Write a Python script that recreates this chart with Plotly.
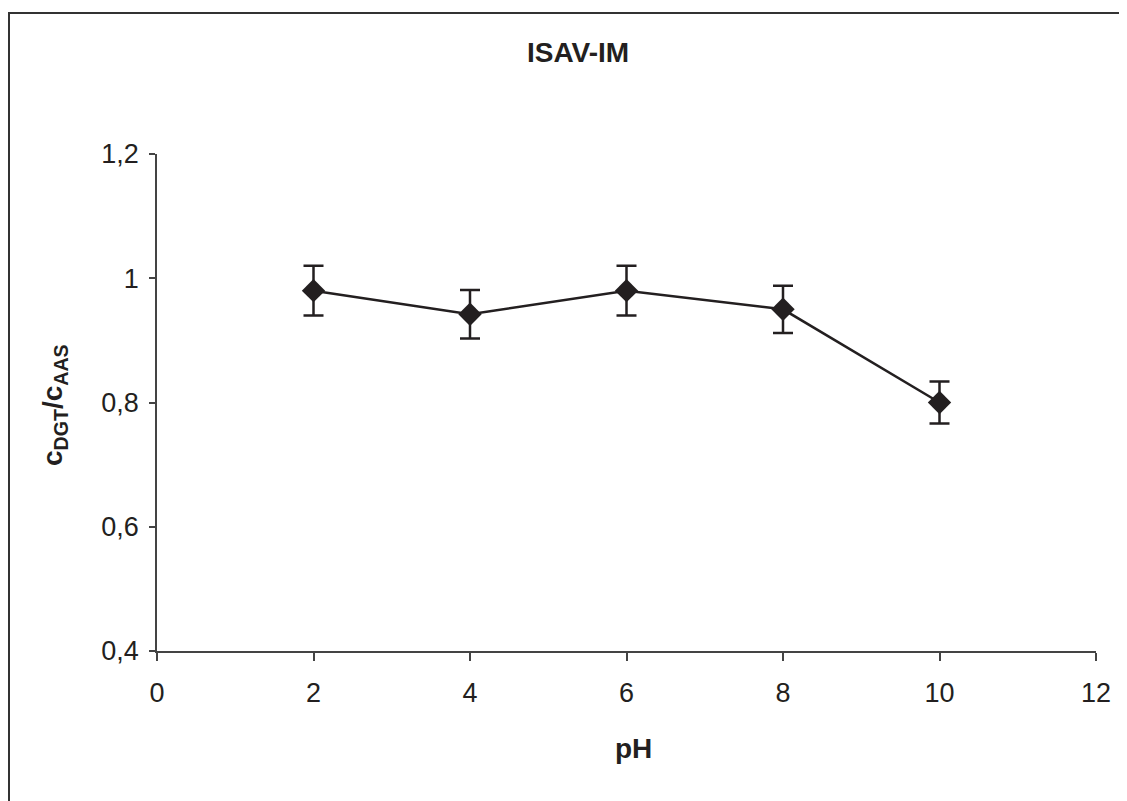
import plotly.graph_objects as go

ph = [2, 4, 6, 8, 10]
ratio = [0.980, 0.942, 0.980, 0.950, 0.800]
err = [0.040, 0.039, 0.040, 0.038, 0.034]
x_ticks = [0, 2, 4, 6, 8, 10, 12]
y_ticks = [0.4, 0.6, 0.8, 1.0, 1.2]
y_tick_labels = ["0,4", "0,6", "0,8", "1", "1,2"]

# page body has an 8px default margin; work in screen pixel coordinates
OFF = 8
W, H = 1127 - OFF, 801 - OFF
L, R, T, B = 157 - OFF, 31, 154 - OFF, 150
pw, ph_ = W - L - R, H - T - B

def px(x):
    return (x - OFF - L) / pw

def py(y):
    return (H - B - (y - OFF)) / ph_

dark = "#231f20"
font = "Liberation Sans, Arial, sans-serif"

fig = go.Figure()
fig.add_trace(go.Scatter(
    x=ph, y=ratio, mode="lines+markers",
    line=dict(color=dark, width=2.5),
    marker=dict(symbol="diamond", size=18, color=dark),
    error_y=dict(type="data", array=err, visible=True, color=dark, thickness=2.5, width=10),
    showlegend=False,
))

fig.update_layout(
    width=W, height=H,
    margin=dict(l=L, r=R, t=T, b=B, autoexpand=False),
    paper_bgcolor="white", plot_bgcolor="white",
    separators=",.",
    font=dict(family=font, size=27, color=dark),
    xaxis=dict(range=[0, 12], tickvals=x_ticks, ticks="outside", ticklen=8,
               tickwidth=1.5, tickcolor="#444", showline=True, linecolor="#444",
               linewidth=1.5, showgrid=False, zeroline=False,
               tickfont=dict(size=27, color=dark), ticklabelstandoff=9),
    yaxis=dict(range=[0.4, 1.2], tickvals=y_ticks, ticktext=y_tick_labels,
               ticks="outside", ticklen=6, tickwidth=1.5, tickcolor="#444",
               showline=True, linecolor="#444", linewidth=1.5, showgrid=False,
               zeroline=False, tickfont=dict(size=27, color=dark), ticklabelstandoff=5),
    annotations=[
        dict(text="<b>ISAV-IM</b>", x=px(578), y=py(53), xref="paper", yref="paper",
             showarrow=False, font=dict(size=28, color=dark), xanchor="center", yanchor="middle"),
        dict(text="<b>pH</b>", x=px(633), y=py(748), xref="paper", yref="paper",
             showarrow=False, font=dict(size=28, color=dark), xanchor="center", yanchor="middle"),
        dict(text="<b>c<sub>DGT</sub>/c<sub>AAS</sub></b>", x=px(54), y=py(405),
             xref="paper", yref="paper", textangle=-90,
             showarrow=False, font=dict(size=28, color=dark), xanchor="center", yanchor="middle"),
    ],
    shapes=[
        dict(type="line", xref="paper", yref="paper", x0=px(9), x1=px(9), y0=py(12), y1=py(820),
             line=dict(color="#333", width=2)),
        dict(type="line", xref="paper", yref="paper", x0=px(8), x1=px(1140), y0=py(13), y1=py(13),
             line=dict(color="#333", width=2)),
    ],
)

fig.write_html("out.html")
